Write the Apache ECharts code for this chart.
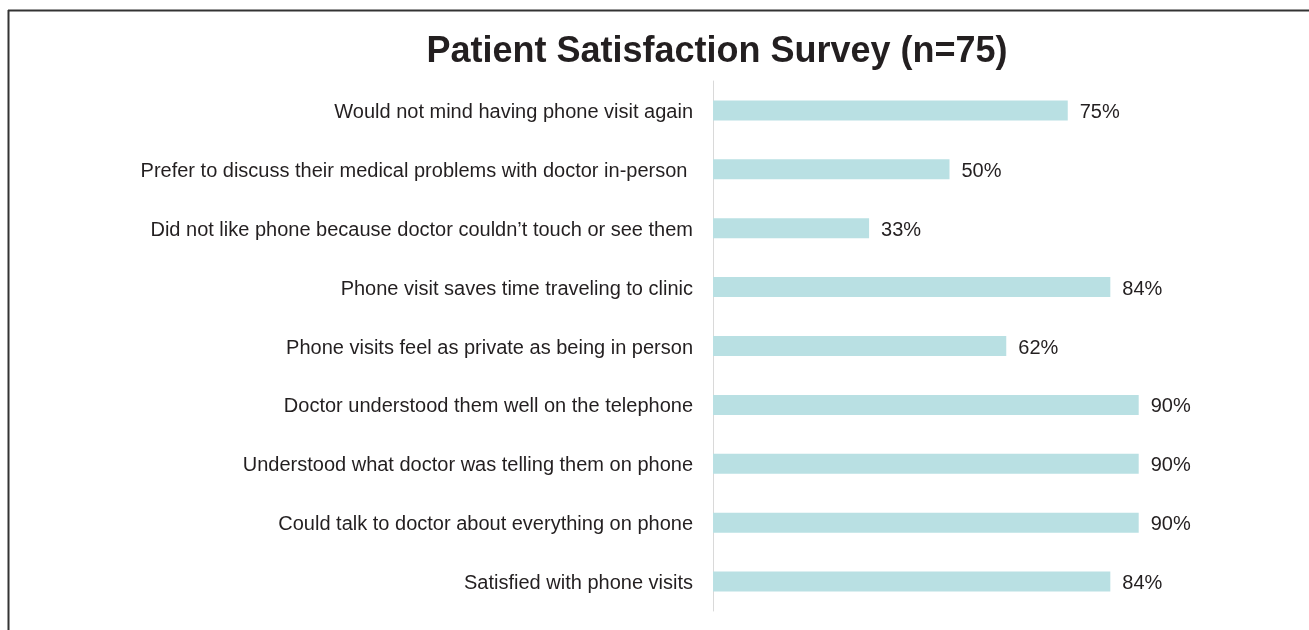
<!DOCTYPE html>
<html>
<head>
<meta charset="utf-8">
<script src="https://cdn.jsdelivr.net/npm/echarts@6/dist/echarts.min.js"></script>
<style>
html,body{margin:0;padding:0;background:#fff;}
#c{width:1309px;height:630px;}
</style>
</head>
<body>
<div id="c"></div>
<script>
const categories = [
  "Would not mind having phone visit again",
  "Prefer to discuss their medical problems with doctor in-person ",
  "Did not like phone because doctor couldn\u2019t touch or see them",
  "Phone visit saves time traveling to clinic",
  "Phone visits feel as private as being in person",
  "Doctor understood them well on the telephone",
  "Understood what doctor was telling them on phone",
  "Could talk to doctor about everything on phone",
  "Satisfied with phone visits"
];
const values = [75, 50, 33, 84, 62, 90, 90, 90, 84];

const chart = echarts.init(document.getElementById('c'), null, {renderer: 'canvas'});
chart.setOption({
  animation: false,
  backgroundColor: '#fff',
  title: {
    text: 'Patient Satisfaction Survey (n=75)',
    left: 712,
    textAlign: 'center',
    top: 29,
    textStyle: {fontFamily: 'Liberation Sans', fontWeight: 'bold', fontSize: 36, color: '#231f20'}
  },
  graphic: [
    {type: 'line', shape: {x1: 8, y1: 10.5, x2: 1309, y2: 10.5}, style: {stroke: '#333', lineWidth: 2}},
    {type: 'line', shape: {x1: 8.5, y1: 10, x2: 8.5, y2: 630}, style: {stroke: '#333', lineWidth: 2}}
  ],
  grid: {left: 713, right: 123, top: 81, bottom: 19, containLabel: false},
  xAxis: {
    type: 'value', min: 0, max: 100, show: false
  },
  yAxis: {
    type: 'category', data: categories, inverse: true,
    axisLine: {show: true, lineStyle: {color: '#d9d9d9', width: 1}},
    axisTick: {show: false},
    axisLabel: {
      margin: 20,
      formatter: function (v) { return '{a|' + v + '}'; },
      rich: {a: {fontFamily: 'Liberation Sans', fontSize: 20, color: '#231f20', padding: [4, 0, 0, 0]}}
    }
  },
  series: [{
    type: 'bar', data: values, barWidth: '34%',
    itemStyle: {color: '#b9e0e3'},
    label: {show: true, position: 'right', distance: 12, offset: [0, 2], formatter: '{c}%',
      fontFamily: 'Liberation Sans', fontSize: 20, color: '#231f20'}
  }]
});
</script>
</body>
</html>
